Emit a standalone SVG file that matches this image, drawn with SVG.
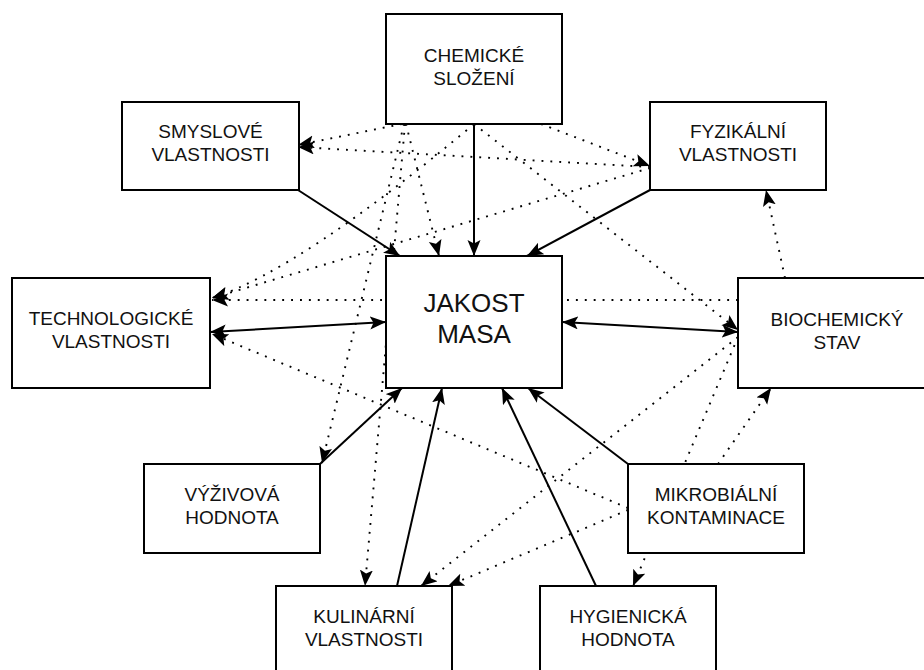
<svg xmlns="http://www.w3.org/2000/svg" width="924" height="670" viewBox="0 0 924 670">
<style>
.box{fill:#fff;stroke:#000;stroke-width:2}
.t{font-family:"Liberation Sans",Arial,sans-serif;font-size:19px;fill:#111;text-anchor:middle}
.tb{font-family:"Liberation Sans",Arial,sans-serif;font-size:26px;fill:#111;text-anchor:middle}
.s{fill:none;stroke:#000;stroke-width:2;marker-end:url(#ah)}
.s2{fill:none;stroke:#000;stroke-width:2;marker-end:url(#ah);marker-start:url(#ahs)}
.d{fill:none;stroke:#000;stroke-width:1.9;stroke-dasharray:1.9 7;marker-end:url(#ah)}
</style>
<defs>
<marker id="ah" markerUnits="userSpaceOnUse" markerWidth="17" markerHeight="14" refX="16" refY="6.5" orient="auto"><path d="M0,0 L16,6.5 L0,13 L3.5,6.5 z" fill="#000"/></marker>
<marker id="ahs" markerUnits="userSpaceOnUse" markerWidth="17" markerHeight="14" refX="16" refY="6.5" orient="auto-start-reverse"><path d="M0,0 L16,6.5 L0,13 L3.5,6.5 z" fill="#000"/></marker>
</defs>
<rect width="924" height="670" fill="#fff"/>
<g id="connectors">
<path class="s" d="M474,124 L474,256"/>
<path class="s" d="M298,190 L400,256"/>
<path class="s" d="M650,190 L527,256"/>
<path class="s2" d="M210,332 L386,322"/>
<path class="s2" d="M738,332 L562,322"/>
<path class="s" d="M320,464 L402,388"/>
<path class="s" d="M397,586 L442,388"/>
<path class="s" d="M596,586 L502,388"/>
<path class="s" d="M628,464 L528,388"/>
<path class="d" d="M402,124 L298,145"/>
<path class="d" d="M650,167 L298,147"/>
<path class="d" d="M541,124 L650,166"/>
<path class="d" d="M650,168 L212,298"/>
<path class="d" d="M474,124 Q300,270 212,298"/>
<path class="d" d="M738,300 L212,300"/>
<path class="d" d="M628,508 L212,334"/>
<path class="d" d="M404,124 L322,463"/>
<path class="d" d="M405,124 L365,586"/>
<path class="d" d="M406,124 L439,256"/>
<path class="d" d="M474,124 L738,330"/>
<path class="d" d="M785,278 L766,190"/>
<path class="d" d="M718,464 L771,388"/>
<path class="d" d="M738,337 L633,586"/>
<path class="d" d="M738,337 L421,586"/>
<path class="d" d="M628,510 L448,586"/>
</g>
<g id="chemicke">
<rect class="box" x="386" y="14" width="176" height="110"/>
<text class="t" x="474" y="62">CHEMICKÉ</text>
<text class="t" x="474" y="85">SLOŽENÍ</text>
</g>
<g id="smyslove">
<rect class="box" x="122" y="102" width="177" height="88"/>
<text class="t" x="210.5" y="138">SMYSLOVÉ</text>
<text class="t" x="210.5" y="161">VLASTNOSTI</text>
</g>
<g id="fyzikalni">
<rect class="box" x="650" y="102" width="176" height="88"/>
<text class="t" x="738" y="138">FYZIKÁLNÍ</text>
<text class="t" x="738" y="161">VLASTNOSTI</text>
</g>
<g id="technologicke">
<rect class="box" x="12" y="278" width="198" height="110"/>
<text class="t" x="111" y="325">TECHNOLOGICKÉ</text>
<text class="t" x="111" y="348">VLASTNOSTI</text>
</g>
<g id="jakost">
<rect class="box" x="386" y="256" width="176" height="132"/>
<text class="tb" x="474" y="312">JAKOST</text>
<text class="tb" x="474" y="343">MASA</text>
</g>
<g id="biochemicky">
<rect class="box" x="738" y="278" width="198" height="110"/>
<text class="t" x="837" y="326">BIOCHEMICKÝ</text>
<text class="t" x="837" y="349">STAV</text>
</g>
<g id="vyzivova">
<rect class="box" x="144" y="464" width="176" height="89"/>
<text class="t" x="232" y="501">VÝŽIVOVÁ</text>
<text class="t" x="232" y="524">HODNOTA</text>
</g>
<g id="mikrobialni">
<rect class="box" x="628" y="464" width="176" height="89"/>
<text class="t" x="716" y="501">MIKROBIÁLNÍ</text>
<text class="t" x="716" y="524">KONTAMINACE</text>
</g>
<g id="kulinarni">
<rect class="box" x="276" y="586" width="176" height="88"/>
<text class="t" x="364" y="623">KULINÁRNÍ</text>
<text class="t" x="364" y="646">VLASTNOSTI</text>
</g>
<g id="hygienicka">
<rect class="box" x="540" y="586" width="176" height="88"/>
<text class="t" x="628" y="623">HYGIENICKÁ</text>
<text class="t" x="628" y="646">HODNOTA</text>
</g>
</svg>
